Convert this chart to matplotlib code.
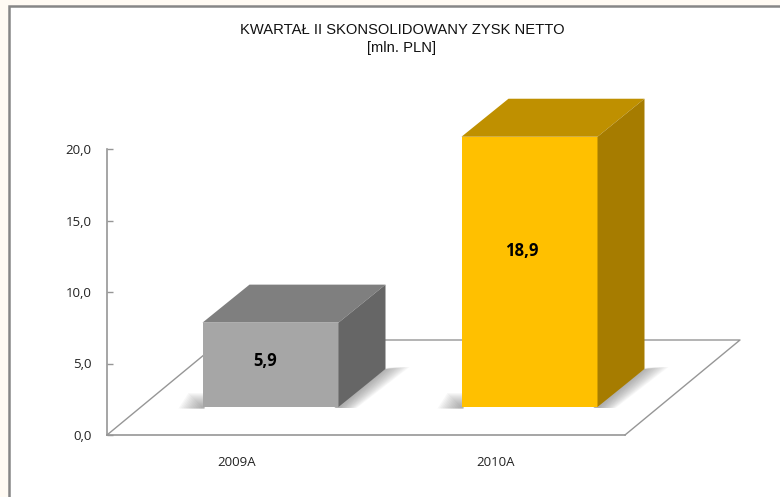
import matplotlib
matplotlib.use('Agg')
import matplotlib.pyplot as plt
from matplotlib.patches import Polygon, Rectangle

categories = ['2009A', '2010A']
values = [5.9, 18.9]
value_labels = ['5,9', '18,9']
y_ticks = [0, 5, 10, 15, 20]
y_tick_labels = ['0,0', '5,0', '10,0', '15,0', '20,0']
title = 'KWARTAŁ II SKONSOLIDOWANY ZYSK NETTO\n[mln. PLN]'

front_colors = ['#a6a6a6', '#ffc000']
top_colors = ['#7f7f7f', '#bf9000']
side_colors = ['#666666', '#a67c00']

W, H = 780, 497
fig = plt.figure(figsize=(W / 100, H / 100), dpi=100, facecolor='#fffaf3')

# white panel with the grey frame
fig.add_artist(Rectangle((9 / W, -0.01), 1.1, 1 - 6 / H + 0.01, transform=fig.transFigure,
                         facecolor='white', edgecolor='#868686', linewidth=1.8, zorder=-1))

# axes placed on the pixel box of the front plane
ax = fig.add_axes([107 / W, 1 - 435 / H, 518 / W, 286 / H])
ax.set_xlim(-0.5, 1.5)
ax.set_ylim(0, 20)
ax.patch.set_alpha(0)

px_x = 2 / 518   # data units per pixel
px_y = 20 / 286

# 3d look: offsets of the box and floor
base_dx, base_dy = 34 * px_x, 28 * px_y
depth_dx, depth_dy = 47 * px_x, 38 * px_y
floor_dx, floor_dy = 115 * px_x, 95 * px_y
bar_w = 136 * px_x

# floor
ax.plot([-0.5, -0.5 + floor_dx, 1.5 + floor_dx, 1.5], [0, floor_dy, floor_dy, 0],
        color='#969696', lw=1.0, clip_on=False, zorder=1)

for i, v in enumerate(values):
    x0 = i - 0.5 * bar_w + base_dx
    x1 = x0 + bar_w
    y0 = base_dy
    y1 = y0 + v

    # soft shadow, stacked see-through layers
    for k in range(1, 15):
        s = k / 14
        ax.add_patch(Polygon([(x0 + 2 * px_x, y0 - 1.5 * px_y), (x0 - 24 * s * px_x, y0 - 1.5 * px_y),
                              (x0 - 14 * s * px_x, y0 + 14 * s * px_y), (x0 + 2 * px_x, y0 + 14 * s * px_y)],
                             facecolor='#6e6e6e', edgecolor='none', alpha=0.05,
                             clip_on=False, zorder=2))
        ax.add_patch(Polygon([(x1 - 4 * px_x, y0 - 1 * px_y), (x1 + depth_dx, y0 + depth_dy),
                              (x1 + depth_dx + 24 * s * px_x, y0 + depth_dy + 2 * px_y),
                              (x1 + 18 * s * px_x, y0 - 1 * px_y)],
                             facecolor='#6e6e6e', edgecolor='none', alpha=0.05,
                             clip_on=False, zorder=2))

    ax.add_patch(Rectangle((x0, y0), bar_w, v, facecolor=front_colors[i], edgecolor='none',
                           clip_on=False, zorder=4))
    ax.add_patch(Polygon([(x0, y1), (x1, y1), (x1 + depth_dx, y1 + depth_dy), (x0 + depth_dx, y1 + depth_dy)],
                         facecolor=top_colors[i], edgecolor='none', clip_on=False, zorder=4))
    ax.add_patch(Polygon([(x1, y0), (x1 + depth_dx, y0 + depth_dy), (x1 + depth_dx, y1 + depth_dy), (x1, y1)],
                         facecolor=side_colors[i], edgecolor='none', clip_on=False, zorder=4))
    # value labels sit at about half the bar height
    ax.text(i + base_dx - (5 if i == 0 else 8) * px_x, y0 + v * (0.577 if i else 0.54), value_labels[i],
            ha='center', va='center', fontsize=12, fontweight='bold', family='Open Sans',
            color='black', zorder=5)

ax.set_xticks(range(len(categories)))
ax.set_xticklabels(categories, fontsize=9.5, family='Open Sans', color='#222222')
ax.set_yticks(y_ticks)
ax.set_yticklabels(y_tick_labels, fontsize=9.5, family='Open Sans', color='#222222')
ax.tick_params(axis='x', length=0, pad=15)
ax.tick_params(axis='y', direction='in', length=4, width=1, color='#969696', pad=11)
for s in ['top', 'right']:
    ax.spines[s].set_visible(False)
for s in ['left', 'bottom']:
    ax.spines[s].set_color('#969696')
    ax.spines[s].set_linewidth(1.2)

fig.text(402 / W, 1 - 39 / H, title, ha='center', va='center', fontsize=10.6,
         family='Liberation Sans', color='#111111', linespacing=1.45)

fig.savefig('out.png', dpi=100, facecolor=fig.get_facecolor())
